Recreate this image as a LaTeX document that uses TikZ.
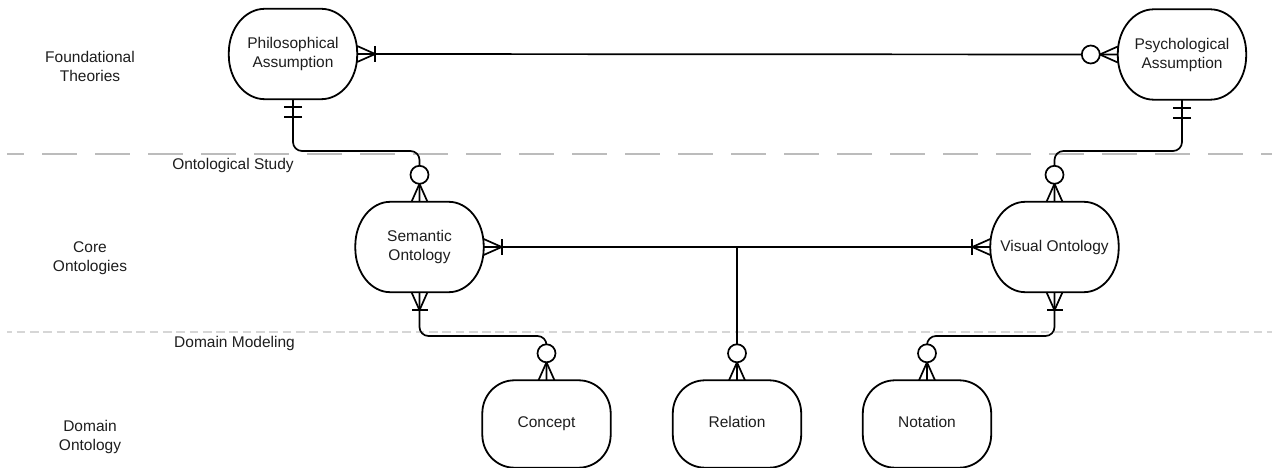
\documentclass[tikz,border=0pt]{standalone}
\usepackage{fontspec}
\setmainfont{Liberation Sans}
\usetikzlibrary{calc}
\definecolor{txt}{RGB}{30,30,30}
\definecolor{sepA}{RGB}{188,188,188}
\definecolor{sepB}{RGB}{214,214,214}
\tikzset{
  ent/.style={rectangle,inner sep=0pt,minimum width=128pt,minimum height=90pt,align=center,
    font=\fontsize{15.5}{19}\selectfont,text=txt},
  entlow/.style={ent,minimum height=87pt,text height=11pt,text depth=3.5pt},
  lbl/.style={align=center,font=\fontsize{15.5}{19}\selectfont,text=txt,inner sep=0pt},
  conn/.style={line width=1.7pt,draw=black},
  boxline/.style={line width=1.8pt,draw=black},
}
\newcommand\ERbox[3]{%
  \draw[boxline] ($(#1.north west)+(#2,0)$) -- ($(#1.north east)+(-#2,0)$)
    arc[start angle=90,end angle=0,x radius=#2,y radius=#3]
    -- ($(#1.south east)+(0,#3)$)
    arc[start angle=0,end angle=-90,x radius=#2,y radius=#3]
    -- ($(#1.south west)+(#2,0)$)
    arc[start angle=270,end angle=180,x radius=#2,y radius=#3]
    -- ($(#1.north west)+(0,-#3)$)
    arc[start angle=180,end angle=90,x radius=#2,y radius=#3] -- cycle;}
\newcommand\zeromany[2]{\begin{scope}[shift={(#1)},rotate=#2]
  \draw[conn] (0,8)--(18,0)--(0,-8); \draw[conn,fill=white] (27,0) circle[radius=9];\end{scope}}
\newcommand\onemany[2]{\begin{scope}[shift={(#1)},rotate=#2]
  \draw[conn] (0,8)--(18,0)--(0,-8); \draw[conn] (18,8)--(18,-8);\end{scope}}
\newcommand\oneone[2]{\begin{scope}[shift={(#1)},rotate=#2]
  \draw[conn] (8,9)--(8,-9); \draw[conn] (18,9)--(18,-9);\end{scope}}
\begin{document}
\begin{tikzpicture}[x=1pt,y=1pt]
\useasboundingbox (0,0) rectangle (1272,-468);
\fill[white] (0,0) rectangle (1272,-468);
% separators
\draw[sepA,line width=1.5pt,dash pattern=on 35pt off 18pt,dash phase=18pt] (7,-154) -- (1272,-154);
\draw[sepB,line width=1.5pt,dash pattern=on 8.7pt off 4.6pt,dash phase=3.7pt] (7,-332) -- (1272,-332);
% labels
\node[lbl] (lf) at (90,-66.5) {Foundational\\Theories};
\node[lbl] (lc) at (90,-258.5) {Core\\Ontologies};
\node[lbl] (ld) at (90,-436.5) {Domain\\Ontology};
\node[lbl] (los) at (233,-165) {Ontological Study};
\node[lbl] (ldm) at (234.5,-343) {Domain Modeling};
% entities
\node[ent] (phil) at (293,-54) {Philosophical\\Assumption};
\node[ent] (psy) at (1182,-54.5) {Psychological\\Assumption};
\node[ent] (sem) at (419.5,-247) {Semantic\\Ontology};
\node[ent] (vis) at (1054.5,-247) {Visual Ontology};
\node[entlow] (con) at (546.5,-424) {Concept};
\node[entlow] (rel) at (737,-424) {Relation};
\node[entlow] (nota) at (927,-424) {Notation};
\ERbox{phil}{36}{44}
\ERbox{psy}{36}{44}
\ERbox{sem}{35}{44}
\ERbox{vis}{35}{44}
\ERbox{con}{32}{33}
\ERbox{rel}{32}{33}
\ERbox{nota}{32}{33}
% connectors
\coordinate (J) at (rel.north |- sem.east);
\draw[conn] (phil.east) -- (psy.west);
\draw[conn,rounded corners=9pt] (phil.south) -- (phil.south |- 0,-151) -- (sem.north |- 0,-151) -- (sem.north);
\draw[conn,rounded corners=9pt] (psy.south) -- (psy.south |- 0,-151) -- (vis.north |- 0,-151) -- (vis.north);
\draw[conn] (sem.east) -- (vis.west);
\draw[conn] (J) -- (rel.north);
\draw[conn,rounded corners=9pt] (sem.south) -- (sem.south |- 0,-336) -- (con.north |- 0,-336) -- (con.north);
\draw[conn,rounded corners=9pt] (vis.south) -- (vis.south |- 0,-336) -- (nota.north |- 0,-336) -- (nota.north);
% end markers
\onemany{phil.east}{0}
\zeromany{psy.west}{180}
\oneone{phil.south}{-90}
\zeromany{sem.north}{90}
\oneone{psy.south}{-90}
\zeromany{vis.north}{90}
\onemany{sem.east}{0}
\onemany{vis.west}{180}
\onemany{sem.south}{-90}
\onemany{vis.south}{-90}
\zeromany{con.north}{90}
\zeromany{rel.north}{90}
\zeromany{nota.north}{90}
\end{tikzpicture}
\end{document}
